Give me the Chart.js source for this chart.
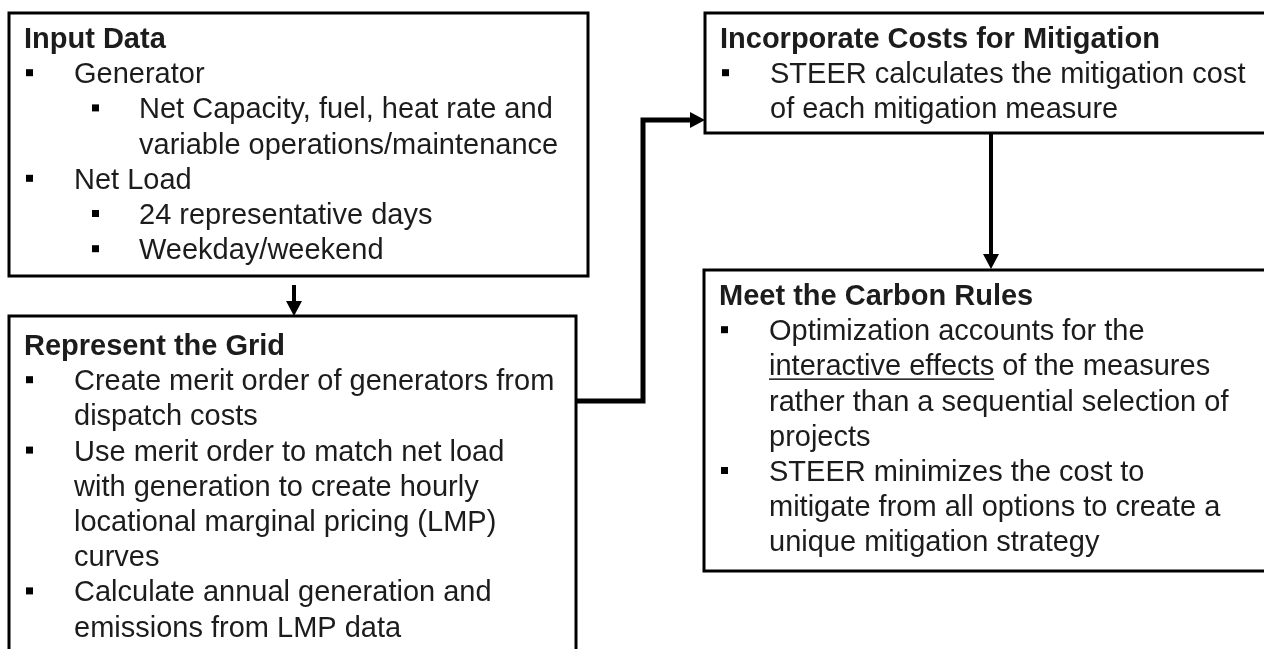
<!DOCTYPE html>
<html>
<head>
<meta charset="utf-8">
<script src="https://cdn.jsdelivr.net/npm/chart.js@4.4.1/dist/chart.umd.min.js"></script>
<style>
html,body{margin:0;padding:0;background:#fff;overflow:hidden;}
canvas{display:block;}
</style>
</head>
<body>
<canvas id="c" width="1264" height="649"></canvas>
<script>
// ---- content (text data) ----
const boxTitles = ["Input Data", "Represent the Grid", "Incorporate Costs for Mitigation", "Meet the Carbon Rules"];
// each line: [level, hasBullet, text]
const inputDataLines = [
  [1, true,  "Generator"],
  [2, true,  "Net Capacity, fuel, heat rate and"],
  [2, false, "variable operations/maintenance"],
  [1, true,  "Net Load"],
  [2, true,  "24 representative days"],
  [2, true,  "Weekday/weekend"]
];
const gridLines = [
  [1, true,  "Create merit order of generators from"],
  [1, false, "dispatch costs"],
  [1, true,  "Use merit order to match net load"],
  [1, false, "with generation to create hourly"],
  [1, false, "locational marginal pricing (LMP)"],
  [1, false, "curves"],
  [1, true,  "Calculate annual generation and"],
  [1, false, "emissions from LMP data"]
];
const mitigationLines = [
  [1, true,  "STEER calculates the mitigation cost"],
  [1, false, "of each mitigation measure"]
];
const carbonLines = [
  [1, true,  "Optimization accounts for the"],
  [1, false, "interactive effects| of the measures"],
  [1, false, "rather than a sequential selection of"],
  [1, false, "projects"],
  [1, true,  "STEER minimizes the cost to"],
  [1, false, "mitigate from all options to create a"],
  [1, false, "unique mitigation strategy"]
];
const boxLines = [inputDataLines, gridLines, mitigationLines, carbonLines];

// ---- layout (positions in the chart's value space) ----
const layout = {
  boxes: [
    {x0: 9,   y0: 13,  x1: 588,  y1: 276, titleY: 48},
    {x0: 9,   y0: 316, x1: 576,  y1: 700, titleY: 355},
    {x0: 705, y0: 13,  x1: 1290, y1: 133, titleY: 48},
    {x0: 704, y0: 270, x1: 1290, y1: 571, titleY: 305}
  ],
  lineGap: 35.2,
  titleDx: 15, bullet1Dx: 17, text1Dx: 65, bullet2Dx: 83, text2Dx: 130,
  connectors: [
    {pts: [[294, 285], [294, 316]], w: 4},
    {pts: [[576, 401], [643, 401], [643, 120], [705, 120]], w: 5},
    {pts: [[991, 133], [991, 269]], w: 4}
  ]
};

const bodySize = 29;
const titleSize = 29;
const family = "'Liberation Sans', Arial, Helvetica, sans-serif";
const textColor = "#1c1c1c";

const diagramPlugin = {
  id: 'diagram',
  afterDraw(chart) {
    const ctx = chart.ctx;
    const xs = chart.scales.x, ys = chart.scales.y;
    const X = v => xs.getPixelForValue(v);
    const Y = v => ys.getPixelForValue(v);
    ctx.save();
    // boxes
    ctx.strokeStyle = '#000';
    ctx.lineWidth = 3;
    layout.boxes.forEach(b => {
      ctx.strokeRect(X(b.x0), Y(b.y0), X(b.x1) - X(b.x0), Y(b.y1) - Y(b.y0));
    });
    // connectors with arrowheads
    ctx.lineJoin = 'miter';
    layout.connectors.forEach(c => {
      const p = c.pts.map(q => [X(q[0]), Y(q[1])]);
      const n = p.length;
      const [ex, ey] = p[n - 1];
      const [sx, sy] = p[n - 2];
      const len = Math.hypot(ex - sx, ey - sy);
      const ux = (ex - sx) / len, uy = (ey - sy) / len;
      const headL = 15, headW = 8;
      ctx.beginPath();
      ctx.moveTo(p[0][0], p[0][1]);
      for (let i = 1; i < n - 1; i++) ctx.lineTo(p[i][0], p[i][1]);
      ctx.lineTo(ex - ux * headL * 0.8, ey - uy * headL * 0.8);
      ctx.lineWidth = c.w;
      ctx.stroke();
      ctx.beginPath();
      ctx.moveTo(ex, ey);
      ctx.lineTo(ex - ux * headL - uy * headW, ey - uy * headL + ux * headW);
      ctx.lineTo(ex - ux * headL + uy * headW, ey - uy * headL - ux * headW);
      ctx.closePath();
      ctx.fillStyle = '#000';
      ctx.fill();
    });
    // text
    ctx.textBaseline = 'alphabetic';
    ctx.textAlign = 'left';
    layout.boxes.forEach((b, bi) => {
      ctx.font = 'bold ' + titleSize + 'px ' + family;
      ctx.fillStyle = textColor;
      ctx.fillText(boxTitles[bi], X(b.x0 + layout.titleDx), Y(b.titleY));
      ctx.font = bodySize + 'px ' + family;
      boxLines[bi].forEach((ln, li) => {
        const [lvl, bullet, txt] = ln;
        const by = Y(b.titleY + layout.lineGap * (li + 1));
        const tx = X(b.x0 + (lvl === 1 ? layout.text1Dx : layout.text2Dx));
        if (bullet) {
          const bx = X(b.x0 + (lvl === 1 ? layout.bullet1Dx : layout.bullet2Dx));
          ctx.fillStyle = '#000';
          ctx.fillRect(bx, by - 14, 7, 7);
        }
        ctx.fillStyle = textColor;
        if (txt.indexOf('|') >= 0) {
          const parts = txt.split('|');
          ctx.fillText(parts[0], tx, by);
          const w0 = ctx.measureText(parts[0]).width;
          ctx.fillRect(tx, by + 3, w0, 1.5);
          ctx.fillText(parts[1], tx + w0, by);
        } else {
          ctx.fillText(txt, tx, by);
        }
      });
    });
    ctx.restore();
  }
};

new Chart(document.getElementById('c'), {
  type: 'scatter',
  data: { datasets: [{ data: [], showLine: false }] },
  options: {
    responsive: false,
    animation: false,
    layout: { padding: 0 },
    plugins: { legend: { display: false }, tooltip: { enabled: false } },
    scales: {
      x: { type: 'linear', min: 0, max: 1264, display: false },
      y: { type: 'linear', min: 0, max: 649, reverse: true, display: false }
    }
  },
  plugins: [diagramPlugin]
});
</script>
</body>
</html>
